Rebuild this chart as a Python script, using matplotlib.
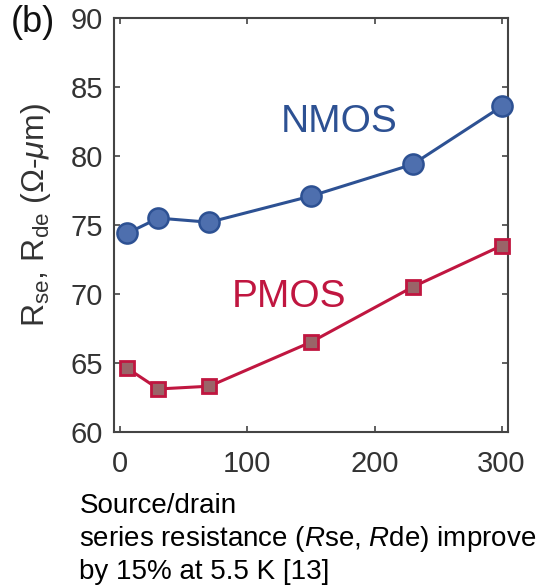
import matplotlib
matplotlib.use("Agg")
import matplotlib.pyplot as plt

plt.rcParams['font.family'] = ['Liberation Sans', 'DejaVu Sans']
plt.rcParams['mathtext.fontset'] = 'custom'
plt.rcParams['mathtext.rm'] = 'Liberation Sans'
plt.rcParams['mathtext.it'] = 'Liberation Sans:italic'
plt.rcParams['mathtext.bf'] = 'Liberation Sans:bold'

temperature = [5.5, 30, 70, 150, 230, 300]
nmos = [74.4, 75.5, 75.2, 77.1, 79.4, 83.6]
pmos = [64.6, 63.1, 63.3, 66.5, 70.5, 73.5]
xticks = [0, 100, 200, 300]
yticks = [60, 65, 70, 75, 80, 85, 90]

fig = plt.figure(figsize=(5.43, 5.87), dpi=100)
ax = fig.add_axes([0.2099, 0.2646, 0.7256, 0.7042])

blue_line = '#2D5193'
blue_face = '#4E6FAE'
red_line = '#C01640'
red_face = '#9A6468'

ax.plot(temperature, nmos, '-', color=blue_line, lw=2.2, marker='o', ms=14.5,
        mfc=blue_face, mec=blue_line, mew=1.8, zorder=3, clip_on=False)
ax.plot(temperature, pmos, '-', color=red_line, lw=2.2, marker='s', ms=10,
        mfc=red_face, mec=red_line, mew=2.0, zorder=3, clip_on=False)

ax.text(172, 82.5, 'NMOS', color='#2D5193', fontsize=28, ha='center', va='center')
ax.text(132.5, 69.8, 'PMOS', color='#C01640', fontsize=28, ha='center', va='center')

ax.set_xlim(-5, 305)
ax.set_ylim(60, 90)
ax.set_xticks(xticks)
ax.set_yticks(yticks)
ax.tick_params(direction='in', length=4, width=1.2, color='#444444',
               labelsize=21, labelcolor='#333333', top=True, right=True)
ax.tick_params(axis='x', pad=13)
ax.tick_params(axis='y', pad=8)
for s in ax.spines.values():
    s.set_color('#444444')
    s.set_linewidth(1.5)

ax.set_ylabel(r'R$_{\mathrm{se}}$, R$_{\mathrm{de}}$ ($\Omega$-$\mathit{\mu}$m)',
              fontsize=23, color='#333333')
ax.yaxis.set_label_coords(-0.155, 0.525)

fig.text(0.020, 0.962, '(b)', fontsize=26, color='#111111', ha='left', va='center')

fig.text(0.146, 0.126, 'Source/drain', fontsize=20, color='black',
         ha='left', va='baseline')
fig.text(0.146, 0.070, r'series resistance ($\mathit{R}$se, $\mathit{R}$de) improve',
         fontsize=20, color='black', ha='left', va='baseline')
fig.text(0.146, 0.013, 'by 15% at 5.5 K [13]', fontsize=20, color='black',
         ha='left', va='baseline')

fig.savefig('out.png', dpi=100)
